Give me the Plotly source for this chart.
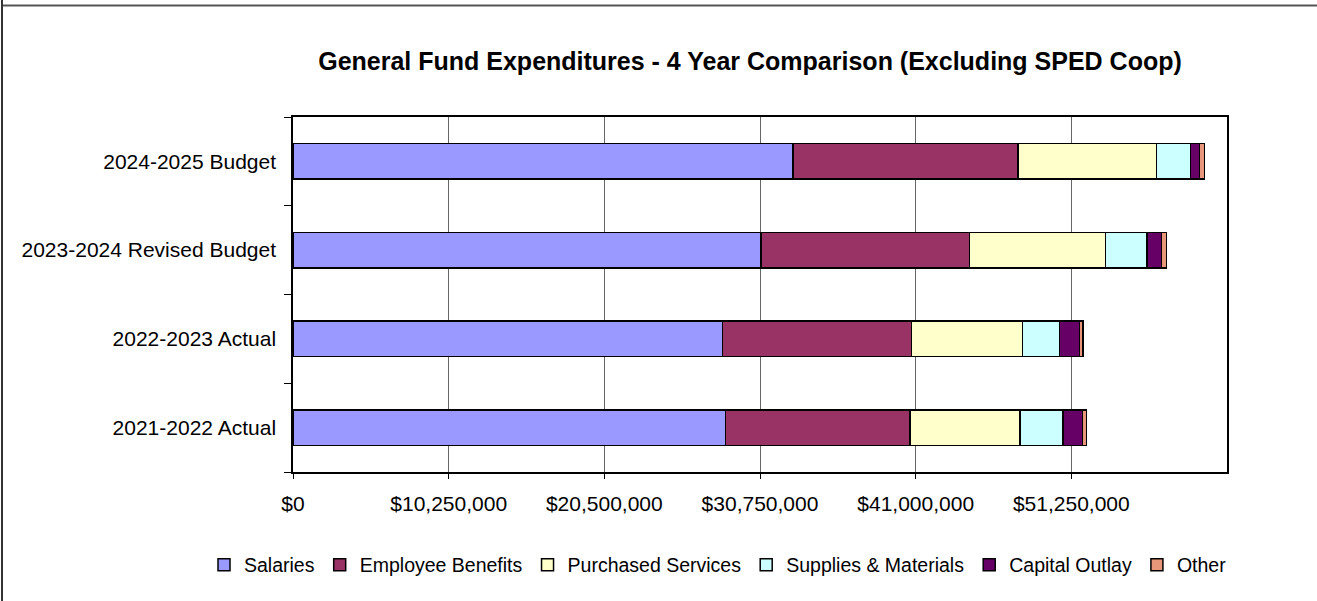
import plotly.graph_objects as go

# Fiscal years, bottom to top
years = ["2021-2022 Actual", "2022-2023 Actual", "2023-2024 Revised Budget", "2024-2025 Budget"]

# Expenditures by category (dollars)
salaries = [28490000, 28280000, 30800000, 32920000]
employee_benefits = [12140000, 12460000, 13760000, 14820000]
purchased_services = [7240000, 7290000, 8930000, 9110000]
supplies_materials = [2830000, 2450000, 2740000, 2250000]
capital_outlay = [1270000, 1320000, 950000, 600000]
other = [270000, 220000, 330000, 330000]

# Axis ticks
x_tick_values = [0, 10250000, 20500000, 30750000, 41000000, 51250000]
x_tick_labels = ["$0", "$10,250,000", "$20,500,000", "$30,750,000", "$41,000,000", "$51,250,000"]
x_max = 61500000

series = [
    ("Salaries", salaries, "#9999FF"),
    ("Employee Benefits", employee_benefits, "#993366"),
    ("Purchased Services", purchased_services, "#FFFFCC"),
    ("Supplies & Materials", supplies_materials, "#CCFFFF"),
    ("Capital Outlay", capital_outlay, "#660066"),
    ("Other", other, "#E8967A"),
]

FONT = "Liberation Sans, Arial, sans-serif"

fig = go.Figure()
for name, values, color in series:
    fig.add_trace(go.Bar(
        name=name,
        y=years,
        x=values,
        orientation="h",
        marker=dict(color=color, line=dict(color="black", width=1.5)),
    ))

W, H = 1317, 601
L, R, T, B = 293, 90, 117, 129
pw, ph = W - L - R, H - T - B


def px_x(px):
    return (px - L) / pw


def px_y(py):
    return (H - B - py) / ph


fig.update_layout(
    width=W,
    height=H,
    margin=dict(l=L, r=R, t=T, b=B, pad=0),
    barmode="stack",
    bargap=0.6,
    paper_bgcolor="white",
    plot_bgcolor="white",
    font=dict(family=FONT, size=21, color="black"),
    title=dict(
        text="<b>General Fund Expenditures - 4 Year Comparison (Excluding SPED Coop)</b>",
        font=dict(family=FONT, size=25, color="black"),
        xref="paper",
        x=px_x(750),
        xanchor="center",
        yref="container",
        y=1 - 61 / H,
        yanchor="middle",
    ),
    legend=dict(
        orientation="h",
        xref="paper",
        yref="paper",
        x=px_x(204),
        xanchor="left",
        y=px_y(565),
        yanchor="middle",
        font=dict(family=FONT, size=19.5, color="black"),
        itemwidth=30,
        traceorder="normal",
        bgcolor="rgba(0,0,0,0)",
    ),
    xaxis=dict(
        range=[0, x_max],
        tickvals=x_tick_values,
        ticktext=x_tick_labels,
        showgrid=True,
        gridcolor="#666666",
        gridwidth=1,
        ticks="outside",
        ticklen=5,
        tickcolor="black",
        showline=True,
        linecolor="black",
        linewidth=1.5,
        mirror=True,
        zeroline=False,
        tickfont=dict(family=FONT, size=21, color="black"),
        ticklabelstandoff=7,
    ),
    yaxis=dict(
        type="category",
        categoryorder="array",
        categoryarray=years,
        tickson="boundaries",
        ticks="outside",
        ticklen=7,
        tickcolor="black",
        showgrid=False,
        showline=True,
        linecolor="black",
        linewidth=1.5,
        mirror=True,
        tickfont=dict(family=FONT, size=21, color="black"),
        ticklabelstandoff=11,
    ),
    shapes=[
        dict(type="line", xref="paper", yref="paper",
             x0=px_x(2), x1=px_x(1317), y0=px_y(5.5), y1=px_y(5.5),
             line=dict(color="#555555", width=2)),
        dict(type="line", xref="paper", yref="paper",
             x0=px_x(2), x1=px_x(2), y0=px_y(0), y1=px_y(601),
             line=dict(color="#333333", width=2)),
    ],
)

fig.write_html("out.html")
